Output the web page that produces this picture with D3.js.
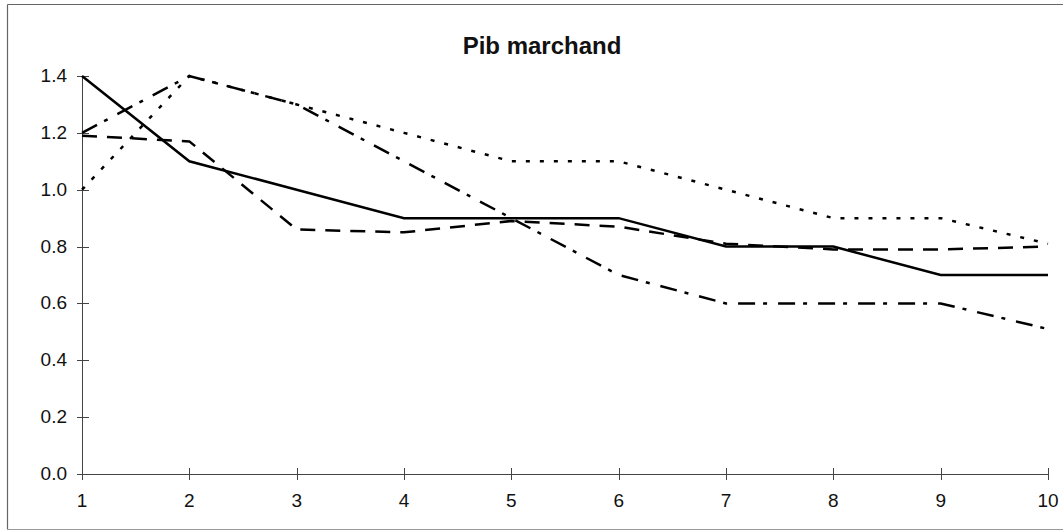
<!DOCTYPE html>
<html><head><meta charset="utf-8">
<script src="https://cdn.jsdelivr.net/npm/d3@7"></script>
<style>body{margin:0;background:#fff}svg{display:block}</style>
</head><body>
<script>
const categories = [1,2,3,4,5,6,7,8,9,10];
const solidSeries   = [1.40,1.10,1.00,0.90,0.90,0.90,0.80,0.80,0.70,0.70];
const dashedSeries  = [1.19,1.17,0.86,0.85,0.89,0.87,0.81,0.79,0.79,0.80];
const dashDotSeries = [1.20,1.40,1.30,1.10,0.90,0.70,0.60,0.60,0.60,0.51];
const dottedSeries  = [1.00,1.40,1.30,1.20,1.10,1.10,1.00,0.90,0.90,0.81];
const yTicks = [0,0.2,0.4,0.6,0.8,1.0,1.2,1.4];
const title = "Pib marchand";

const W=1063,H=531;
const svg=d3.select("body").append("svg").attr("width",W).attr("height",H);
const fr=svg.append("g").attr("stroke","#666").attr("stroke-width",1.2).attr("fill","none");
fr.append("line").attr("x1",7.5).attr("x2",1063).attr("y1",4.5).attr("y2",4.5);
fr.append("line").attr("x1",7.5).attr("x2",7.5).attr("y1",4.5).attr("y2",529.5);
fr.append("line").attr("x1",7.5).attr("x2",1063).attr("y1",529.5).attr("y2",529.5).attr("stroke","#999");

const x=d3.scaleLinear().domain([1,10]).range([82,1048]);
const y=d3.scaleLinear().domain([0,1.4]).range([474,76]);

svg.append("text").attr("x",542).attr("y",54).attr("text-anchor","middle")
  .attr("font-family","Liberation Sans, Arial, sans-serif").attr("font-weight","bold")
  .attr("font-size",24).attr("fill","#111").text(title);

// axes
const ax=svg.append("g").attr("stroke","#444").attr("stroke-width",1).attr("fill","none");
ax.append("line").attr("x1",x(1)+0.5).attr("x2",x(1)+0.5).attr("y1",y(1.4)).attr("y2",y(0));
ax.append("line").attr("x1",x(1)).attr("x2",x(10)).attr("y1",y(0)+0.5).attr("y2",y(0)+0.5);
yTicks.forEach(v=>{
  ax.append("line").attr("x1",x(1)-5).attr("x2",x(1)+7).attr("y1",Math.round(y(v))+0.5).attr("y2",Math.round(y(v))+0.5);
});
categories.forEach(c=>{
  ax.append("line").attr("x1",Math.round(x(c))+0.5).attr("x2",Math.round(x(c))+0.5).attr("y1",y(0)-6).attr("y2",y(0)+6);
});
const lab=svg.append("g").attr("font-family","Liberation Sans, Arial, sans-serif").attr("font-size",19).attr("fill","#111");
yTicks.forEach(v=>{
  lab.append("text").attr("x",67).attr("y",y(v)+6).attr("text-anchor","end").text(v.toFixed(1));
});
categories.forEach(c=>{
  lab.append("text").attr("x",x(c)).attr("y",507).attr("text-anchor","middle").text(c);
});

const line=d3.line().x((d,i)=>x(categories[i])).y(d=>y(d));
const series=[
  {data:dottedSeries,dash:"4,10"},
  {data:dashDotSeries,dash:"17,8,4,11"},
  {data:dashedSeries,dash:"15,10"},
  {data:solidSeries,dash:null}
];
series.forEach(s=>{
  svg.append("path").attr("d",line(s.data)).attr("fill","none").attr("stroke","#000")
    .attr("stroke-width",2.5).attr("stroke-dasharray",s.dash);
});
</script>
</body></html>
